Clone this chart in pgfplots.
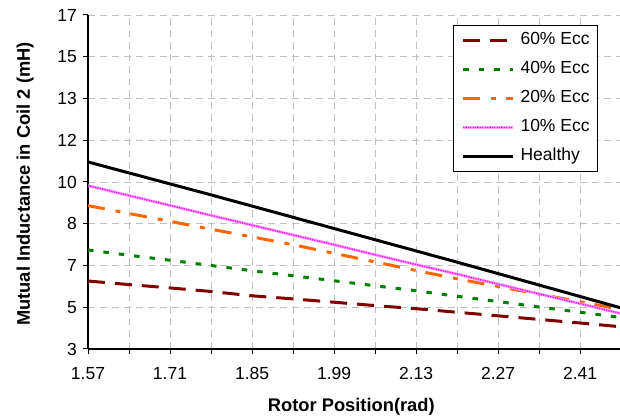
\documentclass[border=0pt]{standalone}
\usepackage{fontspec}
\setmainfont{Liberation Sans}
\usepackage{pgfplots}
\usepackage{pgfplotstable}
\pgfplotsset{compat=1.18}
\definecolor{cSixty}{HTML}{800000}
\definecolor{cForty}{HTML}{008000}
\definecolor{cTwenty}{HTML}{FF6600}
\definecolor{cTen}{HTML}{FF00FF}
\definecolor{cTenL}{HTML}{FF99FF}
\definecolor{gridc}{HTML}{C0C0C0}
\pgfplotstableread{
x h e10 e20 e40 e60
1.57 10.84 9.85 9.01 7.15 5.85
1.64 10.38 9.43 8.68 6.93 5.70
1.71 9.92 9.02 8.35 6.72 5.56
1.78 9.46 8.60 8.02 6.50 5.41
1.85 8.99 8.19 7.70 6.28 5.23
1.92 8.52 7.78 7.37 6.07 5.10
1.99 8.05 7.37 7.01 5.86 4.96
2.06 7.58 6.95 6.65 5.65 4.82
2.13 7.11 6.54 6.29 5.44 4.69
2.20 6.64 6.14 5.94 5.21 4.54
2.27 6.16 5.72 5.62 4.99 4.39
2.34 5.68 5.31 5.30 4.76 4.24
2.41 5.20 4.90 4.98 4.54 4.09
2.48 4.72 4.48 4.66 4.32 3.93
}\datatable
\begin{document}
\begin{tikzpicture}
\path[use as bounding box] (0,0) rectangle (620bp,418bp);
\begin{axis}[
  at={(88bp,69bp)}, anchor=south west,
  scale only axis, width=532bp, height=334bp,
  xmin=1.57, xmax=2.478, ymin=3, ymax=17,
  axis x line*=bottom, axis y line*=left,
  axis line style={-, black, line width=1.2bp},
  xtick={1.57,1.64,1.71,1.78,1.85,1.92,1.99,2.06,2.13,2.20,2.27,2.34,2.41},
  xticklabels={1.57,,1.71,,1.85,,1.99,,2.13,,2.27,,2.41},
  ytick={3,4.75,6.5,8.25,10,11.75,13.5,15.25,17},
  yticklabels={3,5,7,8,10,12,13,15,17},
  tick align=outside, major tick length=5bp,
  tick style={black, line width=1bp},
  grid=major,
  major grid style={gridc, line width=0.9bp, dash pattern=on 7bp off 5bp},
  tick label style={font=\fontsize{17.5bp}{20bp}\selectfont},
  xticklabel style={inner sep=0pt, anchor=north, yshift=-13bp},
  yticklabel style={inner sep=0pt, anchor=east, xshift=-6bp},
  xlabel={\bfseries Rotor Position(rad)},
  ylabel={\bfseries Mutual Inductance in Coil 2 (mH)},
  label style={font=\fontsize{18.3bp}{21bp}\selectfont},
  xlabel style={at={(axis description cs:0.495,-0.174)}, anchor=center},
  ylabel style={at={(axis description cs:-0.118,0.494)}, anchor=center},
  legend image code/.code={\draw[#1] (0bp,0bp) -- (50bp,0bp);},
  legend style={at={(rel axis cs:0.9586,0.970)}, anchor=north east,
    draw=black, line width=0.8bp, fill=white,
    inner xsep=8bp, inner ysep=7bp, row sep=13bp, column sep=6bp,
    font=\fontsize{17.5bp}{20bp}\selectfont,
    nodes={inner sep=0pt, text height=12.5bp, text depth=3.5bp}},
  legend cell align=left,
]
\addplot[cSixty, line width=3bp, dash pattern=on 17bp off 10bp] table[x=x,y=e60]{\datatable};
\addlegendentry{60\% Ecc}
\addplot[cForty, line width=3bp, dash pattern=on 5.5bp off 10bp] table[x=x,y=e40]{\datatable};
\addlegendentry{40\% Ecc}
\addplot[cTwenty, line width=3bp, dash pattern=on 17bp off 11bp on 5bp off 10bp] table[x=x,y=e20]{\datatable};
\addlegendentry{20\% Ecc}
\addplot[cTenL, line width=2.8bp, postaction={draw=cTen, line width=1.4bp, dash pattern=on 1.2bp off 1.2bp}] table[x=x,y=e10]{\datatable};
\addlegendentry{10\% Ecc}
\addplot[black, line width=3bp] table[x=x,y=h]{\datatable};
\addlegendentry{Healthy}
\end{axis}
\end{tikzpicture}
\end{document}
